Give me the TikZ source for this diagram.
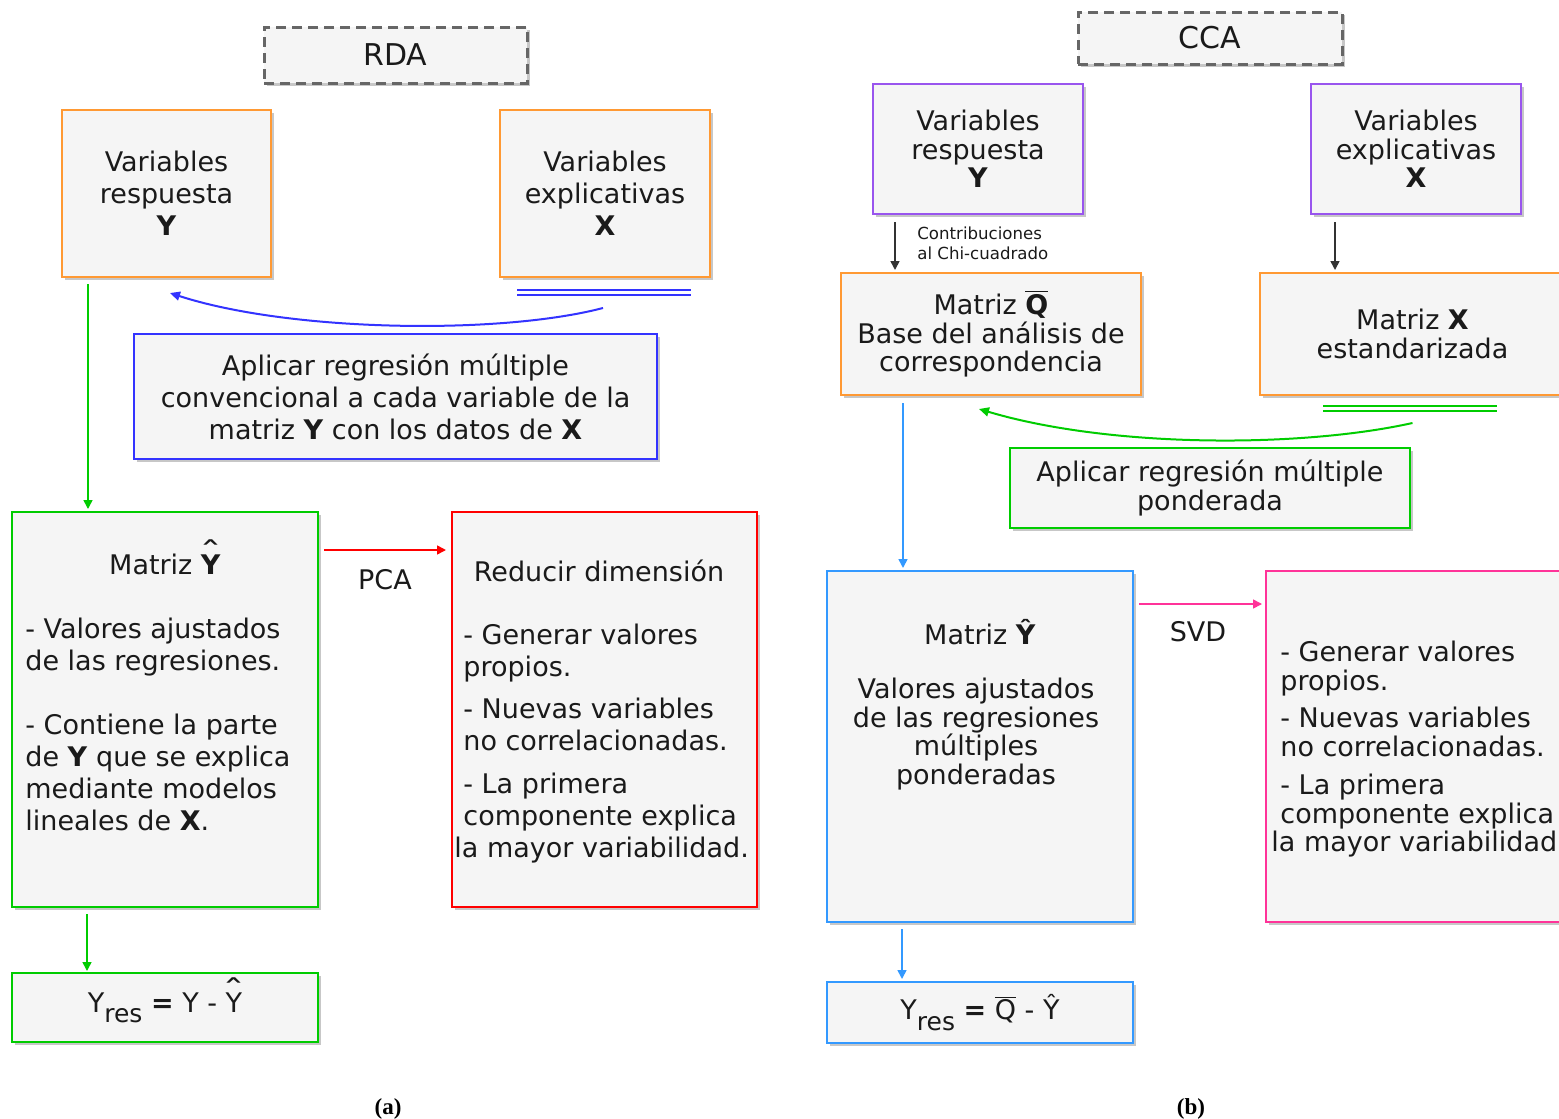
\documentclass[tikz,border=0pt]{standalone}
\usepackage{fontspec}
\setmainfont{DejaVu Sans}
\newfontfamily\capfont{Liberation Serif}
\usetikzlibrary{arrows.meta,shadows,calc}
\definecolor{boxfill}{HTML}{F5F5F5}
\definecolor{cOrange}{HTML}{FF9933}
\definecolor{cGreen}{HTML}{00CC00}
\definecolor{cBlue}{HTML}{3333FF}
\definecolor{cRed}{HTML}{FF0000}
\definecolor{cPurple}{HTML}{9955EE}
\definecolor{cSky}{HTML}{3399FF}
\definecolor{cPink}{HTML}{FF3399}
\definecolor{cText}{HTML}{1A1A1A}
\definecolor{cDash}{HTML}{666666}
\newcommand\fsL{\fontsize{13.5}{16}\selectfont}
\newcommand\fsR{\fontsize{13.5}{14.25}\selectfont}
\newcommand\hatover[1]{\ooalign{#1\cr\hidewidth\raisebox{0.4em}{\scalebox{1.7}[1.1]{ˆ}}\hidewidth\cr}}
\newcommand\subres{\raisebox{-0.38em}{\fontsize{12.5}{12.5}\selectfont res}}
\tikzset{
  box/.style={draw=#1, line width=1pt, fill=boxfill, inner sep=0pt,
    drop shadow={shadow xshift=1.5pt, shadow yshift=-1.5pt, fill=black, opacity=0.22},
    text=cText, align=center},
  dbox/.style={draw=cDash, line width=1.5pt, dash pattern=on 5pt off 3pt, fill=boxfill, inner sep=0pt,
    drop shadow={shadow xshift=1.5pt, shadow yshift=-1.5pt, fill=black, opacity=0.22},
    text=cText, font=\fontsize{15}{18}\selectfont},
  sz/.style 2 args={minimum width=#1, minimum height=#2},
  txt/.style={text=cText, inner sep=0pt},
  conn/.style={line width=0.8pt, -{Triangle[length=4.5pt,width=4.5pt]}},
  dline/.style={line width=1pt},
  captxt/.style={font=\capfont\bfseries\fontsize{11.5}{13}\selectfont, inner sep=0pt},
}
\begin{document}
\begin{tikzpicture}[x=0.5pt,y=-0.5pt, font=\fsL]
\fill[white] (0,0) rectangle (1559,1119);
\useasboundingbox (0,0) rectangle (1559,1119);
\clip (0,0) rectangle (1559,1119);

% ---------------- RDA ----------------
\node[dbox, sz={131.5pt}{28pt}] (rda) at (395.5,55) {RDA};
\node[box=cOrange, sz={104.5pt}{83.5pt}, font=\fsL] (vr) at (166.5,193.5) {Variables\\respuesta\\\textbf{Y}};
\node[box=cOrange, sz={105pt}{83.5pt}, font=\fsL] (ve) at (605,193.5) {Variables\\explicativas\\\textbf{X}};
\node[box=cBlue, sz={261.5pt}{62.5pt}, font=\fsL] (reg) at (395.5,396.5) {Aplicar regresión múltiple\\convencional a cada variable de la\\matriz \textbf{Y} con los datos de \textbf{X}};
\node[box=cGreen, sz={153pt}{197.5pt}] (gm) at (165,709.5) {};
\node[box=cRed, sz={152.5pt}{197.5pt}] (red) at (604.5,709.5) {};
\node[box=cGreen, sz={153pt}{34.5pt}, font=\fsL] (yres) at (165,1007.5) {Y\subres{} \textbf{=} Y - \hatover{Y}};

\node[txt] (gmt) at (165,564) {Matriz \hatover{\textbf{Y}}};
\node[txt, anchor=north west, align=left] (gml) at (25,618)
  {- Valores ajustados\\de las regresiones.\\[16pt]- Contiene la parte\\de \textbf{Y} que se explica\\mediante modelos\\lineales de \textbf{X}.};
\node[txt] (rt) at (599,571) {Reducir dimensión};
\node[txt, anchor=north west, align=left] (rl) at (463,624)
  {- Generar valores\\propios.\\[5pt]- Nuevas variables\\no correlacionadas.\\[5.5pt]- La primera\\componente explica\\\hspace*{-4.5pt}la mayor variabilidad.};
\node[txt] (pca) at (385,580) {PCA};

% double line and curved arrow
\draw[cBlue, dline] ($(ve.south)+(-88,12)$) coordinate (bd1) -- ($(ve.south)+(86,12)$) coordinate (bd2);
\draw[cBlue, dline] ($(ve.south)+(-88,17)$) coordinate (bd3) -- ($(ve.south)+(86,17)$) coordinate (bd4);
\coordinate (bs) at ($(ve.south)+(-2,30)$);
\coordinate (be) at ($(vr.south)+(3.5,15)$);
\draw[cBlue, line width=1pt, -{Triangle[length=5pt,width=4.5pt]}] (bs) .. controls (500,335) and (290,332) .. (be);

% connectors
\coordinate (g1) at ($(vr.south west)+(27,6)$);
\draw[conn, cGreen] (g1) -- ([yshift=1pt]g1 |- gm.north);
\coordinate (p1) at ($(gm.north east)+(5,39)$);
\draw[conn, cRed] (p1) -- ([xshift=-2.5pt]red.west |- p1);
\coordinate (g2) at ($(gm.south west)+(76,6)$);
\draw[conn, cGreen] (g2) -- ([yshift=0.5pt]g2 |- yres.north);

% ---------------- CCA ----------------
\node[dbox, sz={132pt}{26pt}] (cca) at (1210,38) {CCA};
\node[box=cPurple, sz={105pt}{65pt}, font=\fsR] (vr2) at (978,149) {Variables\\respuesta\\\textbf{Y}};
\node[box=cPurple, sz={105pt}{65pt}, font=\fsR] (ve2) at (1416,149) {Variables\\explicativas\\\textbf{X}};
\node[box=cOrange, sz={150pt}{61pt}, font=\fsR] (q) at (991,334) {Matriz $\overline{\mbox{\textbf{Q}}}$\\Base del análisis de\\correspondencia};
\node[box=cOrange, sz={152.5pt}{61pt}, font=\fsR] (xm) at (1412.5,334) {Matriz \textbf{X}\\estandarizada};
\node[box=cGreen, sz={200pt}{40pt}, font=\fsR] (wreg) at (1210,488) {Aplicar regresión múltiple\\ponderada};
\node[box=cSky, sz={153pt}{175.5pt}] (bm) at (980,746.5) {};
\node[box=cPink, sz={149.5pt}{175.5pt}] (pk) at (1415.5,746.5) {};
\node[box=cSky, sz={153pt}{30.5pt}, font=\fsL] (yres2) at (980,1012.5) {Y\subres{} \textbf{=} $\overline{\mbox{Q}}$ - Ŷ};

\node[txt, anchor=north west, align=left, font=\fontsize{8.3}{10}\selectfont] (chi) at (917,226) {Contribuciones\\al Chi-cuadrado};
\node[txt] (bmt) at (980,632) {Matriz \textbf{Ŷ}};
\node[txt, anchor=north, align=center, font=\fsR] (bml) at (976,678) {Valores ajustados\\de las regresiones\\múltiples\\ponderadas};
\node[txt, anchor=north west, align=left, font=\fsR] (pl) at (1280,641)
  {- Generar valores\\propios.\\[4.5pt]- Nuevas variables\\no correlacionadas.\\[5pt]- La primera\\componente explica\\\hspace*{-4.5pt}la mayor variabilidad};
\node[txt] (svd) at (1198,632) {SVD};

\draw[cGreen, dline] ($(xm.south)+(-89.5,10)$) coordinate (gd1) -- ($(xm.south)+(84.5,10)$) coordinate (gd2);
\draw[cGreen, dline] ($(xm.south)+(-89.5,15)$) coordinate (gd3) -- ($(xm.south)+(84.5,15)$) coordinate (gd4);
\coordinate (gs) at ($(xm.south)+(0,27)$);
\coordinate (ge) at ($(q.south)+(-12,13)$);
\draw[cGreen, line width=1pt, -{Triangle[length=5pt,width=4.5pt]}] (gs) .. controls (1300,448) and (1110,448) .. (ge);

\coordinate (k1) at ($(vr2.south west)+(23,7)$);
\draw[conn, black!80] (k1) -- ([yshift=1pt]k1 |- q.north);
\coordinate (k2) at ($(ve2.south west)+(25,7)$);
\draw[conn, black!80] (k2) -- ([yshift=1pt]k2 |- xm.north);
\coordinate (s1) at ($(q.south west)+(63,7)$);
\draw[conn, cSky] (s1) -- ([yshift=1pt]s1 |- bm.north);
\coordinate (s2) at ($(bm.north east)+(5,34)$);
\draw[conn, cPink] (s2) -- ([xshift=-1.5pt]pk.west |- s2);
\coordinate (s3) at ($(bm.south west)+(76,6)$);
\draw[conn, cSky] (s3) -- ([yshift=1pt]s3 |- yres2.north);

% captions
\node[captxt] (capa) at (388,1109) {(a)};
\node[captxt] (capb) at (1191,1109) {(b)};
\end{tikzpicture}
\end{document}
